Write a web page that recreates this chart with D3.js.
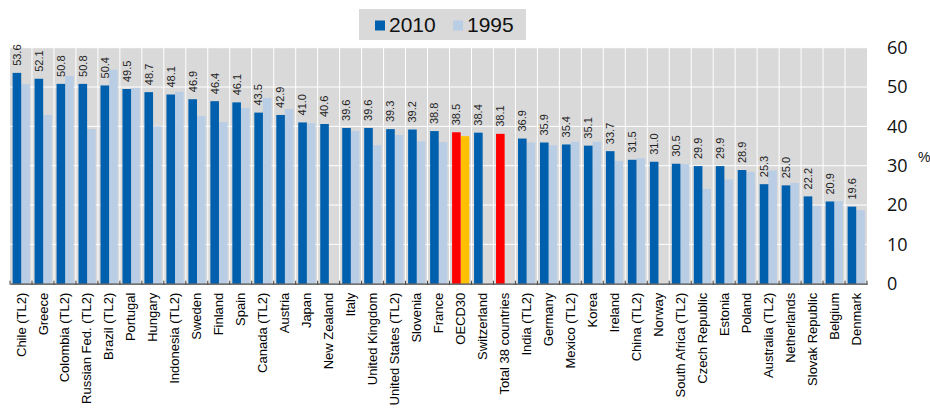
<!DOCTYPE html>
<html>
<head>
<meta charset="utf-8">
<script src="https://cdn.jsdelivr.net/npm/d3@7"></script>
<style>
  body { margin: 0; background: #fff; }
  svg { display: block; font-family: "Liberation Sans", Arial, sans-serif; }
</style>
</head>
<body>
<div id="chart"></div>
<script>
// categories, left to right
var categories = ["Chile (TL2)","Greece","Colombia (TL2)","Russian Fed. (TL2)","Brazil (TL2)","Portugal","Hungary",
  "Indonesia (TL2)","Sweden","Finland","Spain","Canada (TL2)","Austria","Japan","New Zealand","Italy",
  "United Kingdom","United States (TL2)","Slovenia","France","OECD30","Switzerland","Total 38 countries",
  "India (TL2)","Germany","Mexico (TL2)","Korea","Ireland","China (TL2)","Norway","South Africa (TL2)",
  "Czech Republic","Estonia","Poland","Australia (TL2)","Netherlands","Slovak Republic","Belgium","Denmark"];

var v2010 = [53.6,52.1,50.8,50.8,50.4,49.5,48.7,48.1,46.9,46.4,46.1,43.5,42.9,41.0,40.6,39.6,39.6,39.3,39.2,38.8,
  38.5,38.4,38.1,36.9,35.9,35.4,35.1,33.7,31.5,31.0,30.5,29.9,29.9,28.9,25.3,25.0,22.2,20.9,19.6];

// 1995 (null = no bar)
var v1995 = [50.7,42.9,52.8,39.3,54.4,49.7,40.0,48.8,42.6,41.1,44.7,47.2,44.4,40.8,null,38.8,35.2,37.8,36.2,36.0,
  37.5,null,null,35.9,35.2,36.1,36.1,31.2,31.9,null,30.4,24.1,26.5,28.4,28.8,25.6,19.8,21.0,18.7];

var highlight = ["OECD30","Total 38 countries"];
var yTicks = [0,10,20,30,40,50,60];
var seriesNames = ["2010","1995"];

function draw(){
  var W = 930, H = 408;
  var pLeft = 10, pRight = 867, pTop = 47.7, pBottom = 283.7;

  var svg = d3.select("#chart").append("svg")
    .attr("width", W).attr("height", H);

  var x = d3.scaleBand().domain(categories).range([pLeft, pRight]).padding(0);
  var x1 = d3.scaleBand().domain(seriesNames).range([2.6, 19.8]).padding(0);
  var y = d3.scaleLinear().domain([0, 60]).range([pBottom, pTop]);

  var data = categories.map(function(c, i){ return {key: c, a: v2010[i], b: v1995[i]}; });

  // plot background
  svg.append("rect")
    .attr("x", pLeft).attr("y", pTop)
    .attr("width", pRight - pLeft).attr("height", pBottom - pTop)
    .attr("fill", "#d9d9d9");

  // horizontal grid
  svg.selectAll(".hgrid")
    .data(yTicks.slice(1))
    .enter().append("line")
    .attr("x1", pLeft).attr("x2", pRight)
    .attr("y1", function(d){ return y(d); })
    .attr("y2", function(d){ return y(d); })
    .attr("stroke", "#fff").attr("stroke-width", 1);

  // vertical separators
  var bounds = categories.map(function(c){ return x(c); }).slice(1);
  svg.selectAll(".vgrid")
    .data(bounds)
    .enter().append("line")
    .attr("x1", function(d){ return d; }).attr("x2", function(d){ return d; })
    .attr("y1", pTop).attr("y2", pBottom)
    .attr("stroke", "#fff").attr("stroke-width", 1);

  var g = svg.selectAll(".cat")
    .data(data)
    .enter().append("g")
    .attr("transform", function(d){ return "translate(" + x(d.key) + ",0)"; });

  // 1995 bars
  g.filter(function(d){ return d.b != null; })
    .append("rect")
    .attr("x", x1("1995"))
    .attr("width", x1.bandwidth())
    .attr("y", function(d){ return y(d.b); })
    .attr("height", function(d){ return pBottom - y(d.b); })
    .attr("fill", function(d){ return highlight.indexOf(d.key) >= 0 ? "#ffc000" : "#b9cde5"; });

  // 2010 bars
  g.append("rect")
    .attr("x", x1("2010"))
    .attr("width", x1.bandwidth())
    .attr("y", function(d){ return y(d.a); })
    .attr("height", function(d){ return pBottom - y(d.a); })
    .attr("fill", function(d){ return highlight.indexOf(d.key) >= 0 ? "#ff0000" : "#0060ad"; });

  // value labels
  g.append("text")
    .attr("transform", function(d){
      return "translate(" + (x1("2010") + x1.bandwidth() / 2) + "," + (y(d.a) - 7) + ")rotate(-90)";
    })
    .attr("dy", "0.35em")
    .attr("text-anchor", "start")
    .style("font-size", "11px")
    .attr("fill", "#222")
    .text(function(d){ return d.a.toFixed(1); });

  // x axis
  var xAxis = d3.axisBottom(x).tickSize(0).tickPadding(0);
  var gx = svg.append("g")
    .attr("transform", "translate(0," + pBottom + ")")
    .call(xAxis);
  gx.select(".domain").attr("stroke", "#444").attr("stroke-width", 1.2);
  gx.selectAll("text")
    .style("font-size", "13px")
    .attr("fill", "#000")
    .attr("text-anchor", "end")
    .attr("transform", "rotate(-90)")
    .attr("x", -9)
    .attr("y", 0)
    .attr("dy", "0.35em");

  // boundary ticks
  var tickPos = categories.map(function(c){ return x(c); }).concat([pRight]);
  svg.selectAll(".btick")
    .data(tickPos)
    .enter().append("line")
    .attr("x1", function(d){ return d; }).attr("x2", function(d){ return d; })
    .attr("y1", pBottom - 3).attr("y2", pBottom + 1)
    .attr("stroke", "#444").attr("stroke-width", 1);

  // y axis on right
  var yAxis = d3.axisRight(y).tickValues(yTicks).tickSize(0).tickPadding(20);
  var gy = svg.append("g")
    .attr("transform", "translate(" + pRight + ",0)")
    .call(yAxis);
  gy.select(".domain").remove();
  gy.selectAll("text")
    .style("font-size", "18px")
    .style("font-family", "'Open Sans', 'Liberation Sans', sans-serif")
    .attr("fill", "#111");

  svg.append("text")
    .attr("x", 918).attr("y", 162)
    .style("font-size", "14px")
    .attr("fill", "#111")
    .text("%");

  // legend
  var legend = svg.append("g");
  legend.append("rect")
    .attr("x", 359).attr("y", 9)
    .attr("width", 167).attr("height", 31)
    .attr("fill", "#d9d9d9");
  var legItems = [{name: "2010", color: "#0060ad", x: 375}, {name: "1995", color: "#b9cde5", x: 453}];
  var li = legend.selectAll(".li")
    .data(legItems)
    .enter().append("g");
  li.append("rect")
    .attr("x", function(d){ return d.x; }).attr("y", 20.5)
    .attr("width", 10).attr("height", 10)
    .attr("fill", function(d){ return d.color; });
  li.append("text")
    .attr("x", function(d){ return d.x + 14; }).attr("y", 32)
    .style("font-size", "21px")
    .attr("fill", "#111")
    .text(function(d){ return d.name; });
}

draw();
</script>
</body>
</html>
